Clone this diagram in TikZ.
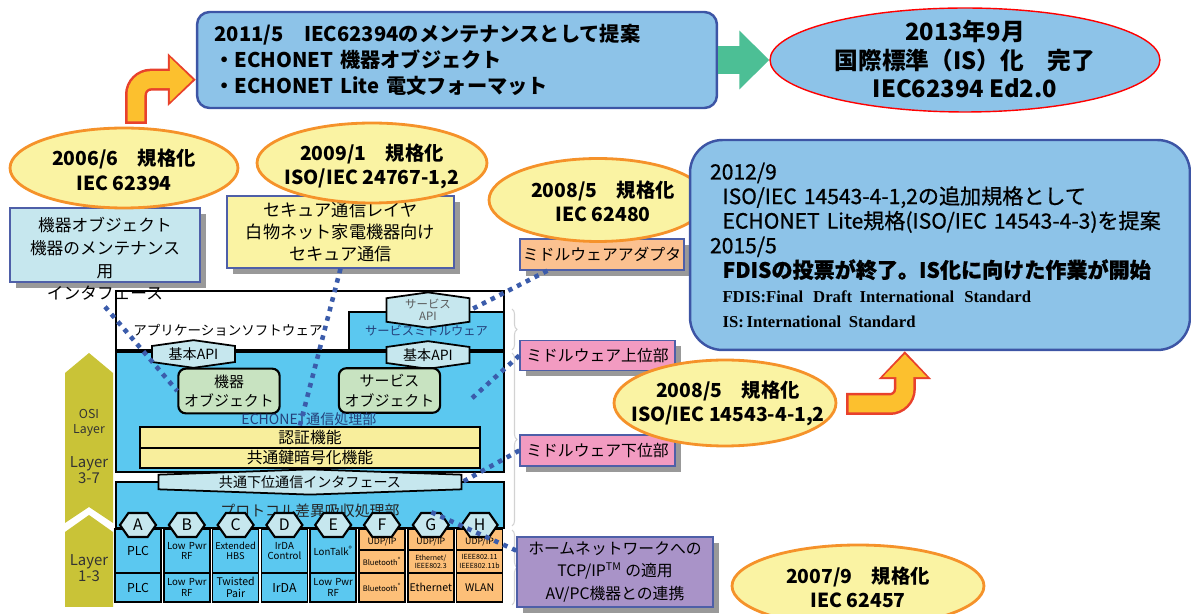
\documentclass[tikz,border=0pt]{standalone}
\usepackage{fontspec}
\setmainfont{Noto Sans CJK JP}
\newfontfamily\serifbf{Liberation Serif}
\newfontfamily\jpmed[FakeBold=0.8]{Noto Sans CJK JP}
\usetikzlibrary{shapes.geometric,shapes.symbols,shadows,calc,arrows.meta,decorations.pathreplacing}

\definecolor{infoblue}{HTML}{8DC3E8}
\definecolor{infoedge}{HTML}{3D55A5}
\definecolor{arrowgreen}{HTML}{4CBF95}
\definecolor{arroworange}{HTML}{FCC02E}
\definecolor{arrowred}{HTML}{E8412C}
\definecolor{ovalfill}{HTML}{FAF3A3}
\definecolor{ovaledge}{HTML}{F5922A}
\definecolor{stackblue}{HTML}{5BC8F0}
\definecolor{palecyan}{HTML}{C6E7EE}
\definecolor{objgreen}{HTML}{C8E3C1}
\definecolor{baryellow}{HTML}{F8EE9C}
\definecolor{cellorange}{HTML}{FDBF78}
\definecolor{osiolive}{HTML}{C9C337}
\definecolor{adapsalmon}{HTML}{FBC190}
\definecolor{mwpink}{HTML}{F29BC1}
\definecolor{tcppurple}{HTML}{A993C8}
\definecolor{dotblue}{HTML}{3B5CAB}
\definecolor{noteedge}{HTML}{4E5FA8}
\definecolor{labelblue}{HTML}{24407A}

\begin{document}
\begin{tikzpicture}[x=0.02cm,y=-0.02cm,
    oval/.style={ellipse,draw=ovaledge,line width=1.6pt,fill=ovalfill},
    ovaltxt/.style={align=center,font=\bfseries\fontsize{11}{14}\selectfont},
    infobox/.style={rectangle,draw=infoedge,line width=1.4pt,fill=infoblue},
    notebox/.style={rectangle,draw=noteedge,line width=0.8pt,inner sep=1pt,align=center,
      drop shadow={shadow xshift=0.12cm,shadow yshift=-0.12cm,fill=gray!80,opacity=1}},
    hexbox/.style={signal,draw=black,line width=1pt,fill=palecyan,inner sep=0pt},
    stackbox/.style={rectangle,draw=black,line width=1pt,fill=stackblue,inner sep=0pt},
    cell/.style={rectangle,draw=black,line width=0.9pt,inner xsep=0.02cm,inner ysep=0pt,
      text width=0.88cm,align=center},
    dotline/.style={draw=dotblue,line width=2.6pt,dash pattern=on 2.6pt off 3pt},
    fatout/.style={draw=arrowred,line width=0.44cm,rounded corners=0.3cm,
      -{Triangle[length=0.56cm,width=1.02cm]}},
    fatin/.style={draw=arroworange,line width=0.34cm,rounded corners=0.3cm,
      shorten >=0.06cm,shorten <=0.05cm,-{Triangle[length=0.46cm,width=0.86cm]}},
    bracket/.style={draw=gray!35,line width=0.6pt,decorate,decoration={brace,amplitude=0.1cm}}]

  \useasboundingbox (0,0) rectangle (1191,614);

  % OSI layer arrows
  \fill[osiolive] (65,373) -- (89,353) -- (113,373) -- (113,523) -- (89,507) -- (65,523) -- cycle;
  \fill[osiolive] (65,532) -- (89,515) -- (113,532) -- (113,607) -- (65,607) -- cycle;
  \begin{scope}[every node/.style={align=center,text=black!80,font=\fontsize{8.5}{9}\selectfont}]
    \node[font=\fontsize{7}{8.5}\selectfont] (osi) at (89,423) {OSI\\Layer};
    \node (l37) at (89,470) {Layer\\3-7};
    \node (l13) at (89,568) {Layer\\1-3};
  \end{scope}

  % application / middleware
  \node[stackbox,fill=white,minimum width=7.76cm,minimum height=1.18cm] (appbox) at (310,320.5) {};
  \node[stackbox,minimum width=3.1cm,minimum height=0.76cm] (smwbox) at (426.5,331) {};
  \node[font=\fontsize{7.7}{9}\selectfont] (apptxt) at (228,330) {アプリケーションソフトウェア};
  \node[text=labelblue,font=\fontsize{7}{8}\selectfont] (smwtxt) at (426.5,331) {サービスミドルウェア};
  \node[hexbox,signal to=north and south,signal pointer angle=164,minimum width=1.66cm,
    minimum height=0.6cm,align=center,text=black!65,font=\fontsize{6.5}{7}\selectfont] (svcapi) at (428,310) {サービス\\API};

  % ECHONET block
  \node[stackbox,minimum width=7.76cm,minimum height=2.4cm] (echobox) at (310,412) {};
  \begin{scope}[every node/.style={hexbox,signal to=north and south,signal pointer angle=164,
      minimum width=1.66cm,minimum height=0.46cm,font=\fontsize{8}{8}\selectfont}]
    \node (basicapi1) at (193.5,354) {基本API};
    \node (basicapi2) at (428,355) {基本API};
  \end{scope}
  \begin{scope}[every node/.style={rectangle,rounded corners=0.15cm,draw=black,line width=1.2pt,
      fill=objgreen,align=center,font=\fontsize{8.5}{11.3}\selectfont}]
    \node[minimum width=1.92cm,minimum height=0.88cm] (devobj) at (229,391) {機器\\オブジェクト};
    \node[minimum width=1.98cm,minimum height=0.86cm] (svcobj) at (389.5,390.5) {サービス\\オブジェクト};
  \end{scope}
  \node[text=labelblue,font=\fontsize{8}{9}\selectfont] (echotxt) at (309,419) {ECHONET通信処理部};
  \begin{scope}[every node/.style={rectangle,draw=black,line width=1.2pt,fill=baryellow,
      minimum width=6.8cm,inner sep=0pt,font=\fontsize{9}{10}\selectfont}]
    \node[minimum height=0.42cm] (authbar) at (310,437.5) {認証機能};
    \node[minimum height=0.4cm] (encbar) at (310,458) {共通鍵暗号化機能};
  \end{scope}

  % protocol block
  \node[stackbox,minimum width=7.76cm,minimum height=0.92cm] (protobox) at (310,505) {};
  \node[text=black!85,font=\fontsize{8.5}{9}\selectfont] (prototxt) at (310,511) {プロトコル差異吸収処理部};
  \node[hexbox,signal to=north and south,signal pointer angle=176,minimum width=6.06cm,
    minimum height=0.42cm,font=\fontsize{8}{9}\selectfont] (ifshape) at (310,482) {共通下位通信インタフェース};

  % lower layer cells
  \begin{scope}[every node/.style={cell,fill=stackblue,minimum height=0.88cm,font=\fontsize{7}{7.5}\selectfont}]
    \node (upA) at (138,551) {PLC};
    \node[font=\fontsize{5.5}{6}\selectfont] (upB) at (186.8,551) {Low Pwr\\RF};
    \node[font=\fontsize{5.3}{6}\selectfont] (upC) at (235.6,551) {Extended\\HBS};
    \node[font=\fontsize{5.5}{6}\selectfont] (upD) at (284.4,551) {IrDA\\Control};
    \node[font=\fontsize{5.5}{6}\selectfont] (upE) at (333.2,551) {LonTalk\textsuperscript{®}};
  \end{scope}
  \begin{scope}[every node/.style={cell,fill=cellorange,minimum height=0.42cm,text height=6pt,
      text depth=0pt,font=\fontsize{5}{5.5}\selectfont}]
    \node (udpF) at (382,539.5) {UDP/IP};
    \node (udpG) at (430.8,539.5) {UDP/IP};
    \node (udpH) at (479.6,539.5) {UDP/IP};
  \end{scope}
  \begin{scope}[every node/.style={cell,fill=cellorange,minimum height=0.46cm,font=\fontsize{4}{4.6}\selectfont}]
    \node[font=\fontsize{4.3}{5}\selectfont] (midF) at (382,561.5) {Bluetooth\textsuperscript{®}};
    \node (midG) at (430.8,561.5) {Ethernet/\\IEEE802.3};
    \node (midH) at (479.6,561.5) {IEEE802.11\\IEEE802.11b};
  \end{scope}
  \begin{scope}[every node/.style={cell,fill=stackblue,minimum height=0.58cm,font=\fontsize{7}{7.5}\selectfont}]
    \node (loA) at (138,587.5) {PLC};
    \node[font=\fontsize{5.5}{6}\selectfont] (loB) at (186.8,587.5) {Low Pwr\\RF};
    \node[font=\fontsize{6}{6.8}\selectfont] (loC) at (235.6,587.5) {Twisted\\Pair};
    \node (loD) at (284.4,587.5) {IrDA};
    \node[font=\fontsize{5.5}{6}\selectfont] (loE) at (333.2,587.5) {Low Pwr\\RF};
    \node[fill=cellorange,font=\fontsize{4.3}{5}\selectfont] (loF) at (382,587.5) {Bluetooth\textsuperscript{®}};
    \node[fill=cellorange,font=\fontsize{6}{7}\selectfont] (loG) at (430.8,587.5) {Ethernet};
    \node[fill=cellorange,font=\fontsize{6}{7}\selectfont] (loH) at (479.6,587.5) {WLAN};
  \end{scope}
  \begin{scope}[every node/.style={hexbox,signal to=east and west,signal pointer angle=110,
      line width=1.2pt,minimum width=0.72cm,minimum height=0.48cm,font=\fontsize{9}{9}\selectfont}]
    \node (hexA) at (138,525) {A};
    \node (hexB) at (186.8,525) {B};
    \node (hexC) at (235.6,525) {C};
    \node (hexD) at (284.4,525) {D};
    \node (hexE) at (333.2,525) {E};
    \node (hexF) at (382,525) {F};
    \node (hexG) at (430.8,525) {G};
    \node (hexH) at (479.6,525) {H};
  \end{scope}

  \draw[bracket] (512,309) -- (512,350);
  \draw[bracket] (512,353) -- (512,526);
  \draw[bracket] (512,530) -- (512,605);

  % notes with shadows
  \node[notebox,fill=palecyan,minimum width=3.8cm,minimum height=1.48cm] (maintbox) at (105,245) {};
  \node[align=center,font=\fontsize{9.5}{12.9}\selectfont] (mainttxt) at (105,259)
    {機器オブジェクト\\機器のメンテナンス\\用\\インタフェース};
  \node[notebox,fill=ovalfill,minimum width=4.54cm,minimum height=1.44cm,
    font=\fontsize{9.8}{12.5}\selectfont] (secbox) at (340.5,232) {セキュア通信レイヤ\\白物ネット家電機器向け\\セキュア通信};
  \begin{scope}[every node/.style={notebox,font=\fontsize{9}{10}\selectfont}]
    \node[fill=adapsalmon,minimum width=3.28cm,minimum height=0.62cm] (adapbox) at (602,254.5) {ミドルウェアアダプタ};
    \node[fill=mwpink,minimum width=3.1cm,minimum height=0.6cm] (upperbox) at (597.5,355.5) {ミドルウェア上位部};
    \node[fill=mwpink,minimum width=3.1cm,minimum height=0.62cm] (lowerbox) at (597.5,450.5) {ミドルウェア下位部};
    \node[fill=tcppurple,minimum width=3.92cm,minimum height=1.4cm,
      font=\fontsize{9}{12.8}\selectfont] (tcpbox) at (615,572) {ホームネットワークへの\\TCP/IP\textsuperscript{TM} の適用\\AV/PC機器との連携};
  \end{scope}

  % standardisation ovals
  \node[oval,minimum width=4.56cm,minimum height=1.6cm] (oval2006) at (124,168) {};
  \node[ovaltxt] (t2006) at (124,170) {2006/6\quad 規格化\\IEC 62394};
  \node[oval,minimum width=4.6cm,minimum height=1.6cm] (oval2009) at (372,163) {};
  \node[ovaltxt] (t2009) at (372,166.5) {2009/1\quad 規格化\\ISO/IEC 24767-1,2};
  \node[oval,minimum width=4.36cm,minimum height=1.66cm] (oval62480) at (598,200) {};
  \node[ovaltxt] (t62480) at (603,201.5) {2008/5\quad 規格化\\IEC 62480};
  \node[oval,minimum width=4.44cm,minimum height=1.72cm] (oval14543) at (725,403) {};
  \node[ovaltxt] (t14543) at (728,403.5) {2008/5\quad 規格化\\ISO/IEC 14543-4-1,2};
  \node[oval,minimum width=5.04cm,minimum height=1.64cm] (oval2007) at (858,586) {};
  \node[ovaltxt] (t2007) at (858,587.5) {2007/9\quad 規格化\\IEC 62457};

  % proposal boxes
  \node[infobox,rounded corners=0.65cm,minimum width=10cm,minimum height=4.2cm,text width=9.2cm,
    inner xsep=0.4cm,align=left,font=\jpmed\fontsize{12}{14}\selectfont] (bigbox) at (940,245) {2012/9\\
    \hspace*{0.25cm}ISO/IEC 14543-4-1,2の追加規格として\\
    \hspace*{0.25cm}ECHONET Lite規格(ISO/IEC 14543-4-3)を提案\\
    2015/5\\
    \hspace*{0.25cm}{\bfseries FDISの投票が終了。IS化に向けた作業が開始}\\
    \hspace*{0.25cm}{\serifbf\bfseries\fontsize{9.5}{14}\selectfont FDIS:Final\hspace{0.6em}Draft\hspace{0.45em}International\hspace{0.6em}Standard}\\
    \hspace*{0.25cm}{\serifbf\bfseries\fontsize{9.5}{14}\selectfont IS:\,International\hspace{0.45em}Standard}};
  \node[infobox,rounded corners=0.25cm,minimum width=10.4cm,minimum height=1.92cm,text width=9.7cm,
    inner xsep=0.35cm,align=left,font=\bfseries\fontsize{11.5}{14.7}\selectfont] (topbox) at (457,60)
    {2011/5\quad IEC62394のメンテナンスとして提案\\・ECHONET 機器オブジェクト\\・ECHONET Lite 電文フォーマット};
  \node[ellipse,draw=red,line width=0.8pt,fill=infoblue,minimum width=7.8cm,minimum height=2.08cm] (isdone) at (965,60) {};
  \node[align=center,font=\bfseries\fontsize{13.5}{16.4}\selectfont] (isdonetxt) at (965,59)
    {2013年9月\\国際標準（IS）化\quad 完了\\IEC62394 Ed2.0};

  % connectors
  \draw[dotline] (mainttxt.south) -- (devobj.west);
  \draw[dotline] (secbox.south) -- ($(authbar.north west)!0.47!(authbar.north east)$);
  \draw[dotline] ($(adapbox.south west)!0.17!(adapbox.south east)$) -- (svcapi.east);
  \draw[dotline] (upperbox.west) -- ($(svcobj.east)!0.45!(echobox.east)$);
  \draw[dotline] (lowerbox.west) -- (ifshape.east);
  \draw[dotline] ($(tcpbox.north west)!0.2!(tcpbox.south west)$) -- (hexG.north);

  \draw[draw=arrowgreen,line width=0.56cm,-{Triangle[length=0.6cm,width=1.14cm]}] (topbox.east) -- (isdone.west);

  \coordinate (a1start) at (136,124);
  \coordinate (a2start) at (846,404);
  \draw[fatout] (a1start) |- ($(topbox.north west)!0.7!(topbox.south west)$);
  \draw[fatin] (a1start) |- ($(topbox.north west)!0.7!(topbox.south west)$);
  \draw[fatout] (a2start) -| ($(bigbox.south west)!0.43!(bigbox.south east)$);
  \draw[fatin] (a2start) -| ($(bigbox.south west)!0.43!(bigbox.south east)$);

\end{tikzpicture}
\end{document}
